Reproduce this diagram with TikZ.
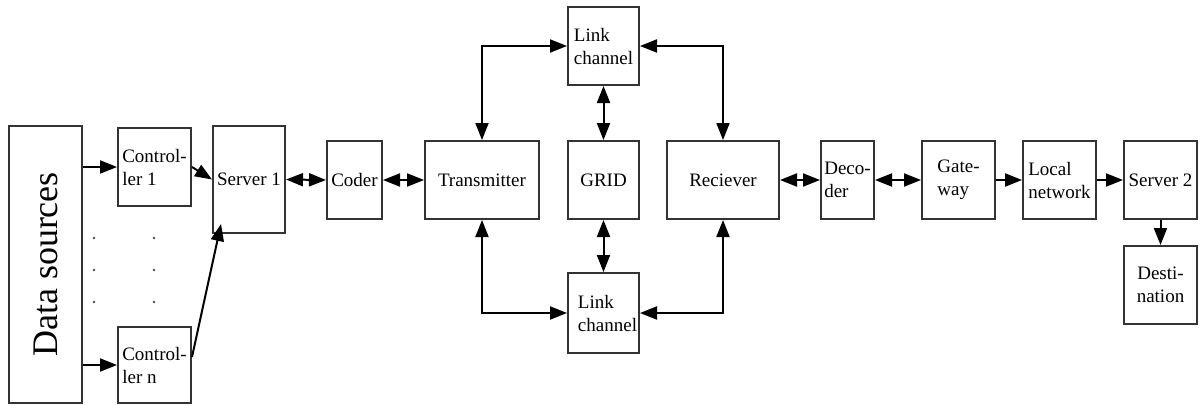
\documentclass[tikz,border=0pt]{standalone}
\usepackage{fontspec}
\setmainfont{Liberation Serif}
\usetikzlibrary{arrows.meta,calc}
\begin{document}
\begin{tikzpicture}[x=1pt,y=-1pt,
  box/.style={draw=black!80,line width=2pt,rectangle,inner sep=0pt,align=left,
              font=\fontsize{19}{23}\selectfont},
  tip/.tip={Triangle[length=17pt,width=13pt]},
  arr/.style={line width=2pt,draw=black,-tip},
  darr/.style={line width=2pt,draw=black,tip-tip},
  dotmark/.style={fill=black!70,circle,inner sep=0pt,minimum size=2.6pt}]
\useasboundingbox (0,0) rectangle (1200,405);

% source side
\node[box,minimum width=73,minimum height=277] (ds) at (45.5,264.5)
  {\rotatebox{90}{\fontsize{36}{40}\selectfont Data sources}};
\node[box,minimum width=73,minimum height=78] (c1) at (154.5,167) {Control-\\ler 1};
\node[box,minimum width=73,minimum height=76] (cn) at (154.5,365) {Control-\\ler n};
\node[box,minimum width=72,minimum height=107] (s1) at (249,179.5) {Server 1};

% ellipsis between the controllers
\foreach \yy [count=\i] in {238,270,302}{
  \node[dotmark] (dl\i) at (94,\yy) {};
  \node[dotmark] (dr\i) at (154,\yy) {};
}

% transmission chain
\node[box,minimum width=55,minimum height=78] (cod) at (354.5,180) {Coder};
\node[box,minimum width=114,minimum height=78] (tx) at (482,180) {Transmitter};
\node[box,minimum width=71,minimum height=78] (grid) at (603.5,180) {GRID};
\node[box,minimum width=112,minimum height=78] (rx) at (723,180) {Reciever};
\node[box,minimum width=71,minimum height=78] (lc1) at (603.5,46) {Link\\channel};
\node[box,minimum width=71,minimum height=80] (lc2) at (603.5,313)
  {\hspace*{8pt}Link\\\hspace*{8pt}channel};

% receiving side
\node[box,minimum width=53,minimum height=78] (dec) at (847.5,180) {Deco-\\der};
\node[box,minimum width=73,minimum height=78] (gw) at (958.5,180) {Gate-\\way};
\node[box,minimum width=73,minimum height=78] (ln) at (1059.5,180) {Local\\network};
\node[box,minimum width=73,minimum height=78] (s2) at (1160.5,180) {Server 2};
\node[box,minimum width=73,minimum height=78,align=center] (dst) at (1160.5,285) {Desti-\\nation};

% connectors
\draw[arr] (ds.east |- c1.west) -- (c1.west);
\draw[arr] (ds.east |- cn.west) -- (cn.west);
\draw[arr] (c1.east) -- (s1.west);
\draw[arr] ([yshift=8pt]cn.east) -- ([xshift=9pt,yshift=10pt]s1.south west);
\draw[darr] (s1.east) -- (cod.west);
\draw[darr] (cod.east) -- (tx.west);
\draw[darr] (tx.north) |- (lc1.west);
\draw[darr] (rx.north) |- (lc1.east);
\draw[darr] (lc1.south) -- (grid.north);
\draw[darr] (grid.south) -- (lc2.north);
\draw[darr] (tx.south) |- (lc2.west);
\draw[darr] (rx.south) |- (lc2.east);
\draw[darr] (rx.east) -- (dec.west);
\draw[darr] (dec.east) -- (gw.west);
\draw[arr] (gw.east) -- (ln.west);
\draw[arr] (ln.east) -- (s2.west);
\draw[arr] (s2.south) -- (dst.north);
\end{tikzpicture}
\end{document}
